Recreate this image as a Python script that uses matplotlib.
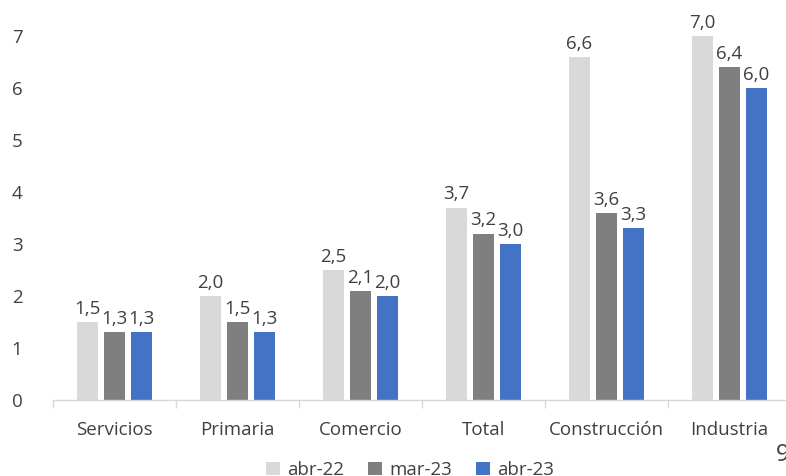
import matplotlib
matplotlib.use("Agg")
import matplotlib.pyplot as plt
import numpy as np

categories = ["Servicios", "Primaria", "Comercio", "Total", "Construcción", "Industria"]
series_names = ["abr-22", "mar-23", "abr-23"]
abr22 = [1.5, 2.0, 2.5, 3.7, 6.6, 7.0]
mar23 = [1.3, 1.5, 2.1, 3.2, 3.6, 6.4]
abr23 = [1.3, 1.3, 2.0, 3.0, 3.3, 6.0]
colors = ["#D9D9D9", "#7F7F7F", "#4472C4"]

plt.rcParams['font.family'] = ['Open Sans', 'DejaVu Sans']

W, H = 786, 476
fig = plt.figure(figsize=(W/100, H/100), dpi=100)
ax_left = 53 / W
ax_right = 791 / W
y0 = 400
ymax = 7.6
ppu = 52
ax_bottom = 1 - y0 / H
ax_height = ymax * ppu / H
ax = fig.add_axes([ax_left, ax_bottom, ax_right - ax_left, ax_height])

fs = 13.5
x = np.arange(len(categories))
bw = 0.17
step = 0.22
txtc = "#404040"
for i, (vals, name, c) in enumerate(zip([abr22, mar23, abr23], series_names, colors)):
    pos = x + (i - 1) * step
    ax.bar(pos, vals, width=bw, color=c, label=name, zorder=2)
    for xp, v in zip(pos, vals):
        ax.annotate(f"{v:.1f}".replace(".", ","), (xp, v), xytext=(0, 3),
                    textcoords="offset points", ha="center", va="bottom",
                    fontsize=fs, color=txtc)

ax.set_xlim(-0.5, len(categories) - 0.5)
ax.set_ylim(0, ymax)
ax.set_yticks(range(0, 8))
ax.set_xticks(x)
ax.set_xticklabels(categories)
ax.tick_params(axis='x', length=0, pad=15, labelsize=fs, labelcolor=txtc)
ax.tick_params(axis='y', length=0, pad=22, labelsize=fs, labelcolor=txtc)
for s in ["top", "right", "left"]:
    ax.spines[s].set_visible(False)
ax.spines["bottom"].set_color("#D9D9D9")
ax.spines["bottom"].set_linewidth(1)
ax.set_xticks(np.arange(-0.5, len(categories) + 0.5, 1), minor=True)
ax.tick_params(axis='x', which='minor', length=6, color="#D9D9D9", width=1)

fig.legend(loc="center", bbox_to_anchor=(410 / W, 1 - 470 / H), ncol=3, frameon=False,
           fontsize=fs, handlelength=0.75, handleheight=0.75, columnspacing=1.25,
           handletextpad=0.4, labelcolor=txtc)
fig.text(783 / W, 1 - 455 / H, "9", fontsize=17, color=txtc, ha="center", va="center")

fig.savefig("out.png", dpi=100)
